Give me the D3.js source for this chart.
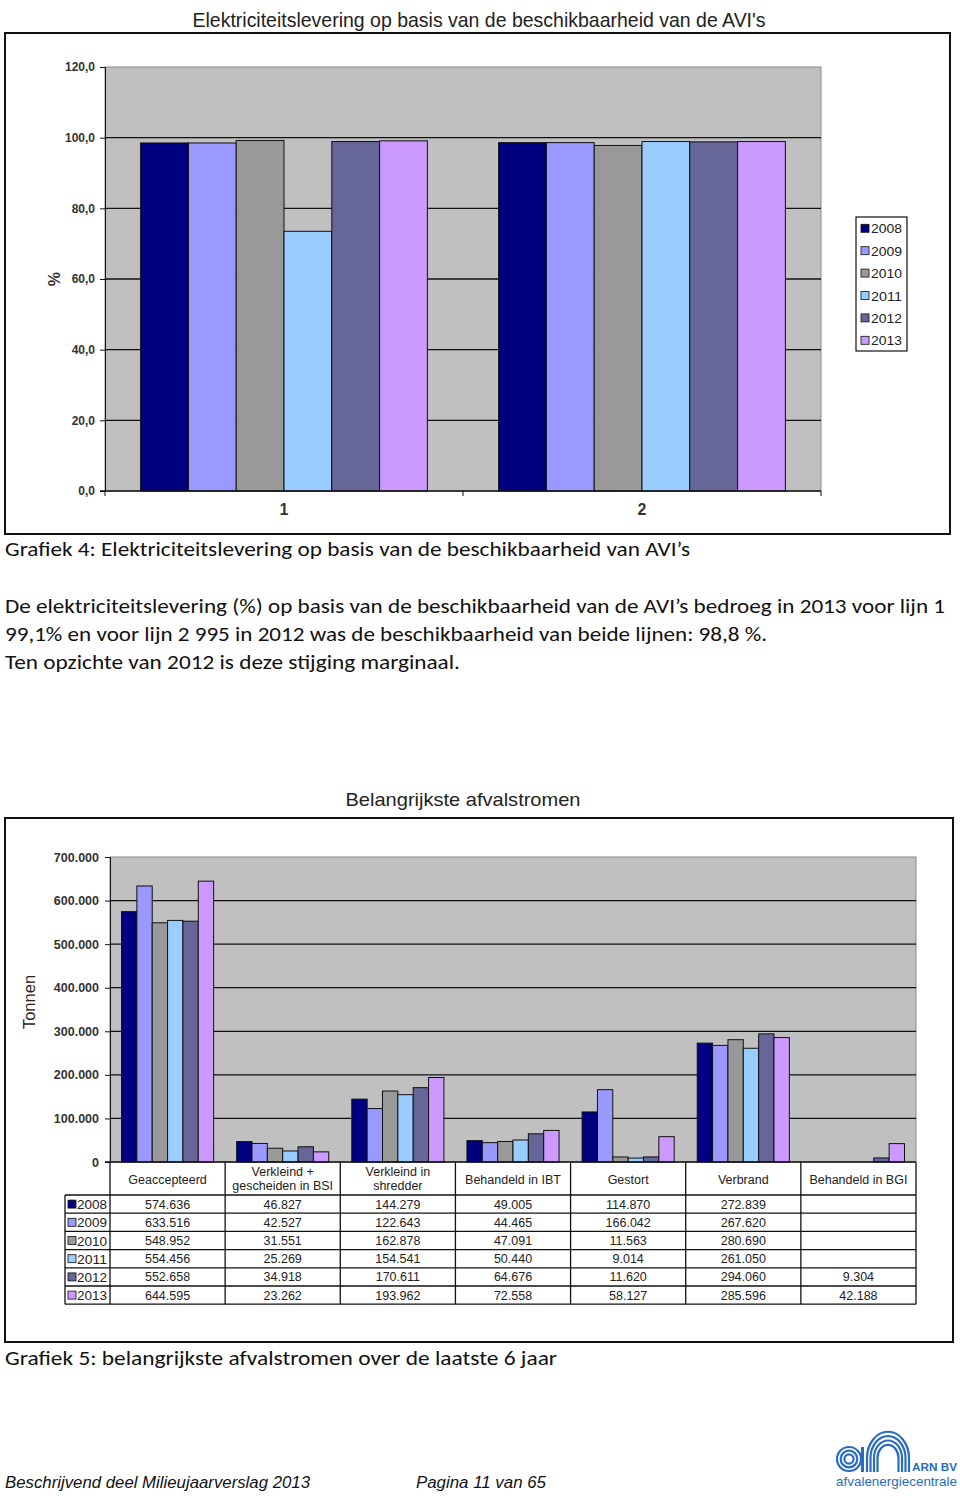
<!DOCTYPE html>
<html>
<head>
<meta charset="utf-8">
<script src="https://cdn.jsdelivr.net/npm/d3@7"></script>
<style>
  body { margin: 0; background: #fff; }
  svg { display: block; }
</style>
</head>
<body>
<svg id="page" width="960" height="1496"></svg>
<script>
// --- data ---
const years = ["2008", "2009", "2010", "2011", "2012", "2013"];
const yearColors = ["#000080", "#9999ff", "#999999", "#99ccff", "#666699", "#cc99ff"];

// grafiek 4: beschikbaarheid (%) per lijn, per jaar
const lijnen = ["1", "2"];
const lijn1 = [98.5, 98.5, 99.2, 73.5, 98.9, 99.1];
const lijn2 = [98.6, 98.6, 97.8, 98.9, 98.8, 98.9];
const pctTicks = [0, 20, 40, 60, 80, 100, 120];

// grafiek 5: afvalstromen (ton)
const stromen = ["Geaccepteerd", "Verkleind +|gescheiden in BSI", "Verkleind in|shredder",
  "Behandeld in IBT", "Gestort", "Verbrand", "Behandeld in BGI"];
const afval2008 = [574636, 46827, 144279, 49005, 114870, 272839, null];
const afval2009 = [633516, 42527, 122643, 44465, 166042, 267620, null];
const afval2010 = [548952, 31551, 162878, 47091, 11563, 280690, null];
const afval2011 = [554456, 25269, 154541, 50440, 9014, 261050, null];
const afval2012 = [552658, 34918, 170611, 64676, 11620, 294060, 9304];
const afval2013 = [644595, 23262, 193962, 72558, 58127, 285596, 42188];
const tonTicks = [0, 100000, 200000, 300000, 400000, 500000, 600000, 700000];

const afval = [afval2008, afval2009, afval2010, afval2011, afval2012, afval2013];
const lijnWaarden = [lijn1, lijn2];

const nl = d3.formatLocale({decimal: ",", thousands: ".", grouping: [3], currency: ["€", ""]});
const fmtPct = nl.format(".1f");
const fmtTon = nl.format(",d");

const svg = d3.select("#page");
const arial = "'Liberation Sans', Arial, sans-serif";
const body = "Carlito, Lato, 'Open Sans', sans-serif";

function text(x, y, s, opts = {}) {
  const t = svg.append("text")
    .attr("x", x).attr("y", y)
    .attr("font-family", opts.family || body)
    .attr("font-size", opts.size || 20)
    .attr("fill", opts.fill || "#111")
    .attr("text-anchor", opts.anchor || "start")
    .text(s);
  if (opts.weight) t.attr("font-weight", opts.weight);
  if (opts.style) t.attr("font-style", opts.style);
  if (opts.len) t.attr("textLength", opts.len).attr("lengthAdjust", "spacingAndGlyphs");
  return t;
}

// ================= Grafiek 4 =================
text(479, 27, "Elektriciteitslevering op basis van de beschikbaarheid van de AVI's",
  {family: "'Liberation Sans Narrow', 'Liberation Sans', Arial, sans-serif", size: 21, anchor: "middle", len: 573, fill: "#222"});

svg.append("rect").attr("x", 5).attr("y", 33).attr("width", 945).attr("height", 501)
  .attr("fill", "#fff").attr("stroke", "#111").attr("stroke-width", 2);

const y1 = d3.scaleLinear().domain([0, 120]).range([491, 67]);
const x1 = d3.scaleBand().domain(lijnen).range([105, 821]);
const x1y = d3.scaleBand().domain(years).range([0, x1.bandwidth()]).paddingOuter(0.745);

const g1 = svg.append("g");
g1.append("rect").attr("x", 105).attr("y", y1(120)).attr("width", 716).attr("height", y1(0) - y1(120))
  .attr("fill", "#c0c0c0").attr("stroke", "#8a8a8a");

g1.selectAll("line.grid").data(pctTicks.filter(d => d > 0 && d < 120)).enter()
  .append("line").attr("class", "grid")
  .attr("x1", 105).attr("x2", 821)
  .attr("y1", d => y1(d)).attr("y2", d => y1(d))
  .attr("stroke", "#111").attr("stroke-width", 1.3);

lijnen.forEach((l, li) => {
  g1.selectAll("rect.b" + li).data(years).enter()
    .append("rect").attr("class", "b" + li)
    .attr("x", d => x1(l) + x1y(d))
    .attr("width", x1y.bandwidth())
    .attr("y", (d, i) => y1(lijnWaarden[li][i]))
    .attr("height", (d, i) => y1(0) - y1(lijnWaarden[li][i]))
    .attr("fill", (d, i) => yearColors[i])
    .attr("stroke", "#111").attr("stroke-width", 1);
});

const ax1 = svg.append("g").attr("transform", "translate(105,0)")
  .call(d3.axisLeft(y1).tickValues(pctTicks).tickFormat(fmtPct).tickSize(5).tickPadding(5));
ax1.select(".domain").attr("stroke", "#111");
ax1.selectAll("line").attr("stroke", "#111");
ax1.selectAll("text").attr("font-family", arial).attr("font-size", 12)
  .attr("font-weight", "bold").attr("fill", "#333");

// x axis with ticks at category boundaries
svg.append("line").attr("x1", 100).attr("x2", 821).attr("y1", y1(0)).attr("y2", y1(0))
  .attr("stroke", "#111").attr("stroke-width", 1.3);
const bounds1 = lijnen.map(l => x1(l)).concat([x1.range()[1]]);
svg.selectAll("line.xt1").data(bounds1).enter().append("line").attr("class", "xt1")
  .attr("x1", d => d).attr("x2", d => d).attr("y1", y1(0)).attr("y2", y1(0) + 5)
  .attr("stroke", "#111");
lijnen.forEach(l => text(x1(l) + x1.bandwidth() / 2, 515, l,
  {family: arial, size: 16, weight: "bold", anchor: "middle", fill: "#333"}));

text(60, 279, "%", {family: arial, size: 16, weight: "bold", anchor: "middle", fill: "#333"})
  .attr("transform", "rotate(-90,60,279)");

// legend
svg.append("rect").attr("x", 856).attr("y", 217).attr("width", 51).attr("height", 134)
  .attr("fill", "#fff").attr("stroke", "#111").attr("stroke-width", 1.2);
years.forEach((yr, i) => {
  const cy = 228.3 + i * 22.4;
  svg.append("rect").attr("x", 861).attr("y", cy - 4).attr("width", 8).attr("height", 8)
    .attr("fill", yearColors[i]).attr("stroke", "#111").attr("stroke-width", 0.8);
  text(871, cy + 5, yr, {family: arial, size: 13.5, fill: "#222", len: 31});
});

// captions
text(5, 556, "Grafiek 4: Elektriciteitslevering op basis van de beschikbaarheid van AVI\u2019s", {len: 685});
text(5, 613, "De elektriciteitslevering (%) op basis van de beschikbaarheid van de AVI\u2019s bedroeg in 2013 voor lijn 1", {len: 940});
text(5, 641, "99,1% en voor lijn 2 995 in 2012 was de beschikbaarheid van beide lijnen: 98,8 %.", {len: 762});
text(5, 669, "Ten opzichte van 2012 is deze stijging marginaal.", {len: 455});

// ================= Grafiek 5 =================
text(463, 806, "Belangrijkste afvalstromen", {family: arial, size: 18.5, anchor: "middle", len: 235, fill: "#222"});

svg.append("rect").attr("x", 5).attr("y", 818).attr("width", 948).attr("height", 524)
  .attr("fill", "#fff").attr("stroke", "#111").attr("stroke-width", 2);

const y2 = d3.scaleLinear().domain([0, 700000]).range([1162, 857]);
const x2 = d3.scaleBand().domain(stromen).range([110, 916]);
const x2y = d3.scaleBand().domain(years).range([0, x2.bandwidth()]).paddingOuter(0.75);

const g2 = svg.append("g");
g2.append("rect").attr("x", 110).attr("y", y2(700000)).attr("width", 806).attr("height", y2(0) - y2(700000))
  .attr("fill", "#c0c0c0").attr("stroke", "#8a8a8a");
g2.selectAll("line.grid").data(tonTicks.filter(d => d > 0 && d < 700000)).enter()
  .append("line").attr("class", "grid")
  .attr("x1", 110).attr("x2", 916)
  .attr("y1", d => y2(d)).attr("y2", d => y2(d))
  .attr("stroke", "#111").attr("stroke-width", 1.3);

years.forEach((yr, yi) => {
  const vals = stromen.map((s, si) => ({s, v: afval[yi][si]})).filter(d => d.v != null);
  g2.selectAll("rect.y" + yr).data(vals).enter()
    .append("rect").attr("class", "y" + yr)
    .attr("x", d => x2(d.s) + x2y(yr))
    .attr("width", x2y.bandwidth())
    .attr("y", d => y2(d.v))
    .attr("height", d => y2(0) - y2(d.v))
    .attr("fill", yearColors[yi])
    .attr("stroke", "#111").attr("stroke-width", 1);
});

const ax2 = svg.append("g").attr("transform", "translate(110,0)")
  .call(d3.axisLeft(y2).tickValues(tonTicks).tickFormat(fmtTon).tickSize(5).tickPadding(6));
ax2.select(".domain").attr("stroke", "#111");
ax2.selectAll("line").attr("stroke", "#111");
ax2.selectAll("text").attr("font-family", arial).attr("font-size", 12.5)
  .attr("font-weight", "bold").attr("fill", "#333");

text(35, 1002, "Tonnen", {family: arial, size: 16.5, anchor: "middle", fill: "#222"})
  .attr("transform", "rotate(-90,35,1002)");

// data table under the chart
const rowTop = 1195, rowH = 18.2;
const tbl = svg.append("g").attr("fill", "none").attr("stroke", "#111").attr("stroke-width", 1.3);
tbl.append("line").attr("x1", 105).attr("x2", 916).attr("y1", 1162).attr("y2", 1162);
d3.range(7).forEach(r => tbl.append("line")
  .attr("x1", 65).attr("x2", 916).attr("y1", rowTop + r * rowH).attr("y2", rowTop + r * rowH));
const colB = stromen.map(s => x2(s)).concat([916]);
colB.forEach(x => tbl.append("line").attr("x1", x).attr("x2", x).attr("y1", 1162).attr("y2", rowTop + 6 * rowH));
tbl.append("line").attr("x1", 65).attr("x2", 65).attr("y1", rowTop).attr("y2", rowTop + 6 * rowH);

stromen.forEach(s => {
  const cx = x2(s) + x2.bandwidth() / 2;
  const parts = s.split("|");
  if (parts.length === 1) {
    text(cx, 1183.5, parts[0], {family: arial, size: 12.5, anchor: "middle", fill: "#222"});
  } else {
    text(cx, 1175.5, parts[0], {family: arial, size: 12.5, anchor: "middle", fill: "#222"});
    text(cx, 1190, parts[1], {family: arial, size: 12.5, anchor: "middle", fill: "#222"});
  }
});

years.forEach((yr, yi) => {
  const cy = rowTop + yi * rowH + rowH / 2;
  svg.append("rect").attr("x", 68).attr("y", cy - 4).attr("width", 8).attr("height", 8)
    .attr("fill", yearColors[yi]).attr("stroke", "#111").attr("stroke-width", 0.8);
  text(77, cy + 5, yr, {family: arial, size: 13.5, fill: "#222", len: 30});
  stromen.forEach((s, si) => {
    const v = afval[yi][si];
    if (v == null) return;
    text(x2(s) + x2.bandwidth() / 2, cy + 4.5, fmtTon(v), {family: arial, size: 12.5, anchor: "middle", fill: "#222"});
  });
});

text(5, 1365, "Grafiek 5:  belangrijkste afvalstromen over de laatste 6 jaar", {len: 552});

// ================= footer =================
text(5, 1488, "Beschrijvend deel Milieujaarverslag 2013", {family: arial, size: 16, style: "italic", len: 305});
text(416, 1488, "Pagina 11 van 65", {family: arial, size: 16, style: "italic", len: 130});

const logo = svg.append("g").attr("fill", "none").attr("stroke", "#2a6cc0").attr("stroke-width", 2.2);
[12, 8.3, 4.6].forEach(r => logo.append("circle").attr("cx", 849).attr("cy", 1459).attr("r", r));
logo.append("line").attr("x1", 862.5).attr("x2", 862.5).attr("y1", 1447).attr("y2", 1472).attr("stroke-width", 3);
[21, 17.5, 14, 10.5].forEach(r => logo.append("path")
  .attr("d", `M${888 - r},1472 L${888 - r},1458 A${r},${r * 1.25} 0 0 1 ${888 + r},1458 L${888 + r},1472`));
text(912, 1471, "ARN BV", {family: arial, size: 11, weight: "bold", fill: "#2a6cc0", len: 45});
text(836, 1486, "afvalenergiecentrale", {family: arial, size: 13, fill: "#2a6cc0", len: 121});
</script>
</body>
</html>
